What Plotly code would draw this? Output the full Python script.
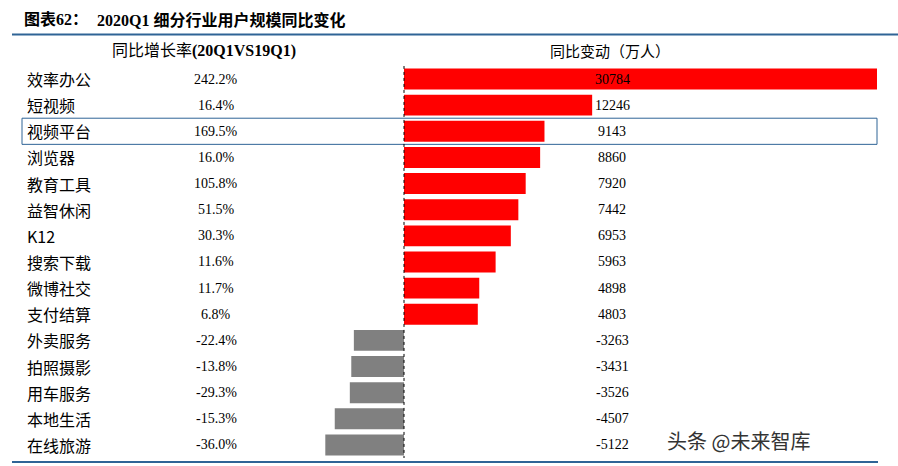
import plotly.graph_objects as go

categories = ["效率办公", "短视频", "视频平台", "浏览器", "教育工具", "益智休闲", "K12",
              "搜索下载", "微博社交", "支付结算", "外卖服务", "拍照摄影", "用车服务",
              "本地生活", "在线旅游"]
growth_pct = [242.2, 16.4, 169.5, 16.0, 105.8, 51.5, 30.3, 11.6, 11.7, 6.8,
              -22.4, -13.8, -29.3, -15.3, -36.0]
change_10k = [30784, 12246, 9143, 8860, 7920, 7442, 6953, 5963, 4898, 4803,
              -3263, -3431, -3526, -4507, -5122]
highlight = "视频平台"

W, H = 898, 466
CJK = "Noto Sans CJK SC"
MIX = "Liberation Serif, Noto Sans CJK SC"
BLUE = "#2F6496"

def px(x):
    return x / W

def py(y):
    return 1 - y / H

colors = ["#FF0000" if v > 0 else "#808080" for v in change_10k]

fig = go.Figure(go.Bar(
    x=change_10k, y=categories, orientation="h",
    marker=dict(color=colors, line=dict(width=0)),
    width=0.8, hoverinfo="skip",
))

# Axis scale: zero at x=404 px, 30784 at x=877 px
k = (877 - 404) / 30784.0
xmin = -404 / k
xmax = (W - 404) / k
row0, step = 79.0, 26.14
n = len(categories)
top_px = row0 - step / 2
bot_px = row0 + step * (n - 1) + step / 2

fig.update_layout(
    width=W, height=H, margin=dict(l=0, r=0, t=0, b=0),
    paper_bgcolor="white", plot_bgcolor="white", showlegend=False,
    xaxis=dict(range=[xmin, xmax], domain=[0, 1], visible=False, fixedrange=True),
    yaxis=dict(type="category", categoryorder="array", categoryarray=categories,
               range=[n - 0.5, -0.5], domain=[py(bot_px), py(top_px)],
               visible=False, fixedrange=True),
)

ann = []
for i, c in enumerate(categories):
    ann.append(dict(x=px(25), y=c, xref="paper", yref="y", text=c, showarrow=False,
                    xanchor="left", yanchor="middle",
                    font=dict(family=CJK, size=16, color="#000")))
    ann.append(dict(x=px(216), y=c, xref="paper", yref="y", text=f"{growth_pct[i]:.1f}%",
                    showarrow=False, xanchor="center", yanchor="middle",
                    font=dict(family="Liberation Serif", size=14, color="#000")))
    ann.append(dict(x=px(612), y=c, xref="paper", yref="y", text=str(change_10k[i]),
                    showarrow=False, xanchor="center", yanchor="middle",
                    font=dict(family="Liberation Serif", size=14, color="#000")))

ann += [
    dict(x=px(22), y=py(20), xref="paper", yref="paper", text="<b>图表62：</b>",
         showarrow=False, xanchor="left", yanchor="middle",
         font=dict(family=MIX, size=16, color="#000")),
    dict(x=px(95), y=py(20), xref="paper", yref="paper",
         text="<b>2020Q1 细分行业用户规模同比变化</b>",
         showarrow=False, xanchor="left", yanchor="middle",
         font=dict(family=MIX, size=16, color="#000")),
    dict(x=px(204), y=py(51), xref="paper", yref="paper",
         text="同比增长率<b>(20Q1VS19Q1)</b>",
         showarrow=False, xanchor="center", yanchor="middle",
         font=dict(family=MIX, size=16, color="#000")),
    dict(x=px(610), y=py(51), xref="paper", yref="paper",
         text="同比变动（万人）",
         showarrow=False, xanchor="center", yanchor="middle",
         font=dict(family=CJK, size=15, color="#000")),
    dict(x=px(738), y=py(440), xref="paper", yref="paper",
         text="头条 @未来智库",
         showarrow=False, xanchor="center", yanchor="middle",
         font=dict(family=CJK, size=20, color="#333")),
]
fig.update_layout(annotations=ann)

hi = categories.index(highlight)
fig.update_layout(shapes=[
    dict(type="line", xref="paper", yref="paper", x0=px(12), x1=1, y0=py(34.5), y1=py(34.5),
         line=dict(color=BLUE, width=2)),
    dict(type="line", xref="paper", yref="paper", x0=px(12), x1=px(878), y0=py(462), y1=py(462),
         line=dict(color=BLUE, width=2)),
    dict(type="rect", xref="paper", yref="y", x0=px(22), x1=px(877), y0=hi - 0.5, y1=hi + 0.5,
         line=dict(color=BLUE, width=1), fillcolor="rgba(0,0,0,0)"),
    dict(type="line", xref="x", yref="y", x0=0, x1=0, y0=-0.5, y1=n - 0.5,
         line=dict(color="#000", width=1, dash="dot")),
])

fig.write_html("out.html", config={"displayModeBar": False, "staticPlot": True},
               post_script="document.body.style.margin='0';document.body.style.overflow='hidden';")
